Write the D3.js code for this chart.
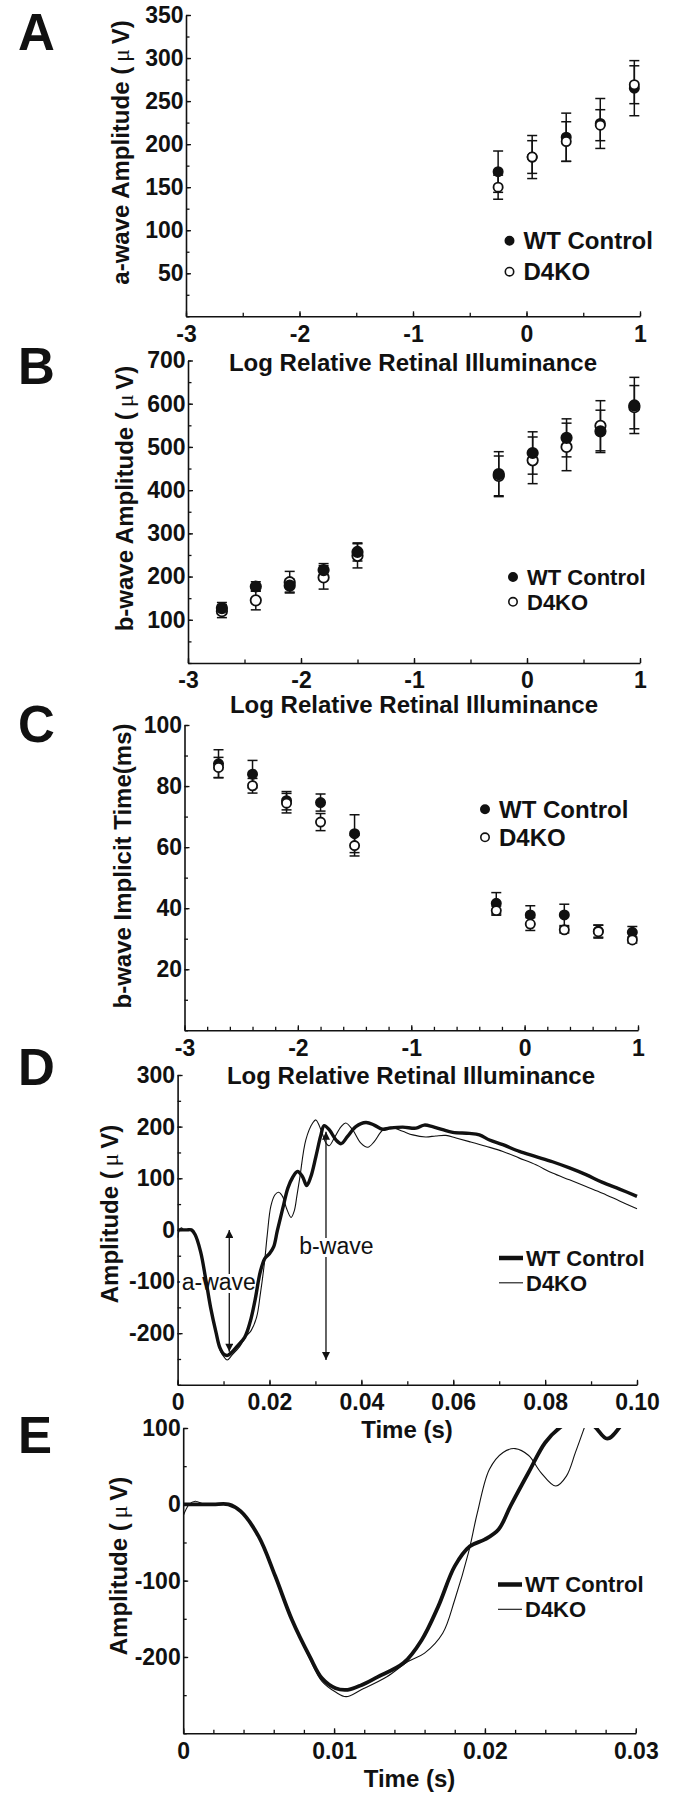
<!DOCTYPE html>
<html><head><meta charset="utf-8">
<script src="https://cdn.jsdelivr.net/npm/d3@7"></script>
<style>
body{margin:0;background:#fff;}
svg{display:block;background:#fff;}
text{font-family:"Liberation Sans",Arial,Helvetica,sans-serif;fill:#111;}
</style></head><body>
<svg id="c" width="676" height="1800"></svg>
<script>
// ---------------- data ----------------
const seriesNames = ["WT Control", "D4KO"];
const illumA = [-0.25, 0.05, 0.35, 0.65, 0.95];
const illumBC = [-2.7, -2.4, -2.1, -1.8, -1.5, -0.25, 0.05, 0.35, 0.65, 0.95];

const aWT = [168, 185, 208, 224, 265];
const aWTerr = [24, 25, 28, 29, 32];
const aKO = [150, 185, 203, 222, 269];
const aKOerr = [14, 19, 23, 18, 22];

const bWT = [127, 177, 179, 215, 257, 437, 486, 521, 536, 596];
const bWTerr = [13, 11, 15, 15, 21, 52, 49, 44, 49, 65];
const bKO = [120, 145, 187, 198, 248, 433, 469, 500, 549, 592];
const bKOerr = [15, 22, 25, 27, 28, 46, 54, 55, 58, 50];

const cWT = [87.3, 83.9, 75.2, 74.6, 64.4, 41.6, 37.8, 37.8, 32.5, 32.1];
const cWTerr = [4.6, 4.5, 3, 2.8, 6.2, 3.5, 3, 3.5, 2, 1.9];
const cKO = [86.1, 80.1, 74.4, 68.2, 60.5, 39.2, 34.8, 32.9, 32.3, 29.6];
const cKOerr = [3.3, 2.4, 3.2, 2.8, 3.4, 1.5, 2.1, 1, 2.1, 1];

// ERG traces (time in s, amplitude in uV)
const wtTime = [0, 0.001, 0.002, 0.003, 0.0038, 0.005, 0.0061, 0.0072, 0.0084, 0.0092, 0.0101, 0.0109, 0.0118, 0.0129, 0.0146, 0.0158, 0.0169, 0.018, 0.019, 0.02, 0.0209, 0.0217, 0.0229, 0.024, 0.025, 0.0261, 0.0272, 0.0281, 0.029, 0.0301, 0.0312, 0.0319, 0.033, 0.0345, 0.0356, 0.037, 0.0388, 0.041, 0.0428, 0.0446, 0.0461, 0.049, 0.0519, 0.0537, 0.0555, 0.0577, 0.0599, 0.0635, 0.0657, 0.0679, 0.0708, 0.0744, 0.078, 0.0816, 0.0853, 0.0889, 0.0925, 0.0962, 0.1];
const wtAmp = [0, 0, 0, 0, -9, -42, -94, -151, -200, -228, -241, -243, -237, -226, -208, -178, -134, -81, -55, -46, -33, -2, 42, 81, 101, 113, 103, 86, 103, 142, 184, 202, 194, 174, 167, 181, 200, 208, 203, 195, 197, 199, 197, 203, 200, 194, 189, 187, 184, 174, 165, 152, 142, 132, 120, 107, 92, 79, 65];
const koTime = [0, 0.0004, 0.0008, 0.0014, 0.002, 0.003, 0.0038, 0.005, 0.0061, 0.0072, 0.0084, 0.0092, 0.0101, 0.0108, 0.0118, 0.0135, 0.0149, 0.016, 0.0172, 0.018, 0.0189, 0.0195, 0.0203, 0.0212, 0.022, 0.0229, 0.0237, 0.0247, 0.0254, 0.026, 0.0266, 0.0279, 0.0294, 0.0301, 0.0312, 0.0323, 0.033, 0.0341, 0.0356, 0.0366, 0.0381, 0.0399, 0.0414, 0.0428, 0.0446, 0.0464, 0.049, 0.0512, 0.054, 0.0562, 0.0584, 0.0606, 0.0635, 0.0671, 0.0708, 0.0744, 0.078, 0.0816, 0.0853, 0.0889, 0.0925, 0.0962, 0.1];
const koAmp = [-15, 0, 4, 0, 0, 0, -9, -42, -94, -151, -203, -232, -246, -252, -243, -226, -206, -195, -169, -125, -64, -11, 46, 68, 73, 64, 42, 24, 37, 68, 101, 174, 207, 213, 194, 168, 163, 178, 200, 207, 194, 168, 160, 171, 193, 199, 191, 184, 180, 182, 183, 178, 171, 162, 152, 139, 126, 110, 97, 84, 71, 56, 41];

// annotations in panel D (a-wave, b-wave)
const annoLabels = ["a-wave", "b-wave"];
const annoArrowT = [0.01125, 0.0323];
const annoArrowTop = [0, 190];
const annoArrowBottom = [-236, -252];
const annoTextT = [0.0009, 0.0265];
const annoTextV = [-116, -47];

// tick labels
const illumTicks = [-3, -2, -1, 0, 1];
const aTicks = [50, 100, 150, 200, 250, 300, 350];
const bTicks = [100, 200, 300, 400, 500, 600, 700];
const cTicks = [20, 40, 60, 80, 100];
const dYTicks = [-200, -100, 0, 100, 200, 300];
const dXTicks = [0, 0.02, 0.04, 0.06, 0.08, 0.10];
const dXLabels = ["0", "0.02", "0.04", "0.06", "0.08", "0.10"];
const eYTicks = [-200, -100, 0, 100];
const eXTicks = [0, 0.01, 0.02, 0.03];
const eXLabels = ["0", "0.01", "0.02", "0.03"];

// ---------------- drawing ----------------
const svg = d3.select("#c");
const FS = 23;

svg.append("defs").append("marker")
  .attr("id", "ah").attr("markerUnits", "userSpaceOnUse")
  .attr("viewBox", "0 0 10 10").attr("refX", 10).attr("refY", 5)
  .attr("markerWidth", 9).attr("markerHeight", 8).attr("orient", "auto-start-reverse")
  .append("path").attr("d", "M0,0 L10,5 L0,10 Z").attr("fill", "#111");

function letter(t, x, y) {
  svg.append("text").attr("x", x).attr("y", y).attr("font-size", 51)
    .attr("font-weight", "bold").text(t);
}

function yTitle(x, y, pre, post) {
  const t = svg.append("text").attr("transform", `translate(${x},${y}) rotate(-90)`)
    .attr("text-anchor", "middle").attr("dy", "0.35em")
    .attr("font-size", 24).attr("font-weight", "bold");
  t.append("tspan").text(pre);
  if (post !== undefined) {
    t.append("tspan").attr("font-family", "Liberation Serif, DejaVu Serif, serif")
      .attr("font-weight", "normal").text("\u2009\u03bc\u2009");
    t.append("tspan").text(post);
  }
}

function xTitle(x, y, txt) {
  svg.append("text").attr("x", x).attr("y", y).attr("dy", "0.35em")
    .attr("text-anchor", "middle").attr("font-size", 24).attr("font-weight", "bold").text(txt);
}

function drawAxes(x, y, xMinor, xMajor, xLab, yMinor, yMajor) {
  const g = svg.append("g");
  const y0 = y.range()[0], x0 = x.range()[0];
  const gx = g.append("g").attr("transform", `translate(0,${y0})`);
  gx.call(d3.axisBottom(x).tickValues(xMinor).tickSize(-3.5).tickSizeOuter(0).tickFormat(""));
  const gx2 = g.append("g").attr("transform", `translate(0,${y0})`);
  gx2.call(d3.axisBottom(x).tickValues(xMajor).tickSize(-5).tickSizeOuter(0).tickPadding(9)
    .tickFormat((d, i) => xLab[i]));
  gx2.select(".domain").remove();
  const gy = g.append("g").attr("transform", `translate(${x0},0)`);
  gy.call(d3.axisLeft(y).tickValues(yMinor).tickSize(-3.5).tickSizeOuter(0).tickFormat(""));
  const gy2 = g.append("g").attr("transform", `translate(${x0},0)`);
  gy2.call(d3.axisLeft(y).tickValues(yMajor).tickSize(-5).tickSizeOuter(0).tickPadding(2.5)
    .tickFormat(d => String(d)));
  gy2.select(".domain").remove();
  g.selectAll("text").attr("font-size", FS).attr("font-weight", "bold")
    .attr("font-family", "Liberation Sans, Arial, sans-serif").attr("fill", "#111");
  g.selectAll("line").attr("stroke", "#111").attr("stroke-width", 1.3);
  g.selectAll(".domain").attr("stroke", "#111").attr("stroke-width", 1.6);
}

function scatterPanel(cfg) {
  const x = d3.scaleLinear().domain([-3, 1]).range(cfg.xr);
  const y = d3.scaleLinear().domain(cfg.yd).range(cfg.yr);
  drawAxes(x, y, d3.range(-3, 1.001, cfg.xStep), illumTicks, illumTicks.map(String),
    d3.range(cfg.yd[0], cfg.yd[1] + 0.001, cfg.yStep), cfg.yTicks);
  const sets = [
    {vals: cfg.wt, err: cfg.wtErr, fill: "#111"},
    {vals: cfg.ko, err: cfg.koErr, fill: "#fff"}
  ];
  const order = cfg.wtOnTop ? [1, 0] : [0, 1];
  const g = svg.append("g");
  order.forEach(si => {
    const s = sets[si];
    const pts = cfg.xs.map((xv, i) => ({x: xv, v: s.vals[i], e: s.err[i]}));
    const eg = g.append("g").attr("stroke", "#111").attr("stroke-width", 1.5);
    pts.forEach(p => {
      const px = x(p.x), lo = y(p.v - p.e), hi = y(p.v + p.e);
      eg.append("line").attr("x1", px).attr("x2", px).attr("y1", lo).attr("y2", hi);
      eg.append("line").attr("x1", px - 5).attr("x2", px + 5).attr("y1", lo).attr("y2", lo);
      eg.append("line").attr("x1", px - 5).attr("x2", px + 5).attr("y1", hi).attr("y2", hi);
    });
  });
  order.forEach(si => {
    const s = sets[si];
    const pts = cfg.xs.map((xv, i) => ({x: xv, v: s.vals[i]}));
    g.append("g").selectAll("circle").data(pts).join("circle")
      .attr("cx", d => x(d.x)).attr("cy", d => y(d.v)).attr("r", cfg.r)
      .attr("fill", s.fill).attr("stroke", "#111").attr("stroke-width", 1.8);
  });
  // legend
  const lg = svg.append("g");
  seriesNames.forEach((nm, i) => {
    const ly = cfg.leg[1] + i * cfg.legGap;
    lg.append("circle").attr("cx", cfg.leg[0]).attr("cy", ly).attr("r", 4.2)
      .attr("fill", i === 0 ? "#111" : "#fff").attr("stroke", "#111").attr("stroke-width", 1.6);
    lg.append("text").attr("x", cfg.leg[0] + 14).attr("y", ly).attr("dy", "0.36em")
      .attr("font-size", cfg.legFS).attr("font-weight", "bold").text(nm);
  });
}

function linePanel(cfg) {
  const x = d3.scaleLinear().domain(cfg.xd).range(cfg.xr);
  const y = d3.scaleLinear().domain(cfg.yd).range(cfg.yr);
  drawAxes(x, y, d3.range(cfg.xd[0], cfg.xd[1] + 1e-9, cfg.xStep), cfg.xTicks, cfg.xLabels,
    d3.range(cfg.yd[0], cfg.yd[1] + 0.001, 50), cfg.yTicks);
  const cid = "clip" + cfg.id;
  svg.append("clipPath").attr("id", cid).append("rect")
    .attr("x", cfg.xr[0]).attr("y", cfg.yr[1]).attr("width", cfg.xr[1] - cfg.xr[0] + 2)
    .attr("height", cfg.yr[0] - cfg.yr[1]);
  if (cfg.anno) {
    annoLabels.forEach((lab, i) => {
      svg.append("line").attr("x1", x(annoArrowT[i])).attr("x2", x(annoArrowT[i]))
        .attr("y1", y(annoArrowTop[i])).attr("y2", y(annoArrowBottom[i]))
        .attr("stroke", "#111").attr("stroke-width", 1.3)
        .attr("marker-start", "url(#ah)").attr("marker-end", "url(#ah)");
      svg.append("text").attr("x", x(annoTextT[i])).attr("y", y(annoTextV[i]))
        .attr("font-size", 23).attr("stroke", "#fff").attr("stroke-width", 6)
        .attr("paint-order", "stroke").text(lab);
    });
  }
  const line = d3.line().x(d => x(d[0])).y(d => y(d[1])).curve(d3.curveCatmullRom.alpha(0.5));
  const g = svg.append("g").attr("clip-path", `url(#${cid})`);
  g.append("path").datum(koTime.map((t, i) => [t, koAmp[i]])).attr("d", line)
    .attr("fill", "none").attr("stroke", "#111").attr("stroke-width", 1.1);
  g.append("path").datum(wtTime.map((t, i) => [t, wtAmp[i]])).attr("d", line)
    .attr("fill", "none").attr("stroke", "#111").attr("stroke-width", cfg.thick);
  // legend
  seriesNames.forEach((nm, i) => {
    const ly = cfg.leg[1] + i * cfg.legGap;
    svg.append("line").attr("x1", cfg.leg[0]).attr("x2", cfg.leg[0] + 24)
      .attr("y1", ly).attr("y2", ly).attr("stroke", "#111")
      .attr("stroke-width", i === 0 ? 4.5 : 1.1);
    svg.append("text").attr("x", cfg.leg[0] + 27).attr("y", ly).attr("dy", "0.36em")
      .attr("font-size", 22).attr("font-weight", "bold").text(nm);
  });
}

// Panel A
letter("A", 18, 50);
scatterPanel({xr: [186, 640], yr: [316.3, 15], yd: [0, 350], xStep: 0.5, yStep: 25, yTicks: aTicks,
  xs: illumA, wt: aWT, wtErr: aWTerr, ko: aKO, koErr: aKOerr, r: 4.6, wtOnTop: false,
  leg: [509.5, 240.7], legGap: 31, legFS: 24});
yTitle(120.7, 152.5, "a-wave Amplitude (", "V)");
xTitle(413, 363, "Log Relative Retinal Illuminance");

// Panel B
letter("B", 18, 384);
scatterPanel({xr: [188, 640], yr: [663, 360.5], yd: [0, 700], xStep: 0.5, yStep: 50, yTicks: bTicks,
  xs: illumBC, wt: bWT, wtErr: bWTerr, ko: bKO, koErr: bKOerr, r: 5.2, wtOnTop: true,
  leg: [513, 577], legGap: 24.8, legFS: 22});
yTitle(125, 498.5, "b-wave Amplitude (", "V)");
xTitle(414, 705, "Log Relative Retinal Illuminance");

// Panel C
letter("C", 18, 742);
scatterPanel({xr: [184.5, 638], yr: [1030.3, 725], yd: [0, 100], xStep: 0.2, yStep: 10, yTicks: cTicks,
  xs: illumBC, wt: cWT, wtErr: cWTerr, ko: cKO, koErr: cKOerr, r: 4.6, wtOnTop: false,
  leg: [485, 809.3], legGap: 28, legFS: 24});
yTitle(123, 866, "b-wave Implicit Time(ms)");
xTitle(411, 1076, "Log Relative Retinal Illuminance");

// Panel D
letter("D", 18, 1085);
linePanel({id: "D", xd: [0, 0.1], xr: [177.6, 637], yd: [-300, 300], yr: [1384.8, 1075],
  xStep: 0.01, xTicks: dXTicks, xLabels: dXLabels, yTicks: dYTicks, thick: 3.4, anno: true,
  leg: [499, 1258], legGap: 24.8});
yTitle(110, 1214, "Amplitude (", "V)");
xTitle(407, 1429.7, "Time (s)");

// Panel E
letter("E", 18, 1453);
linePanel({id: "E", xd: [0, 0.03], xr: [183.2, 635.8], yd: [-300, 100], yr: [1733.3, 1428],
  xStep: 0.002, xTicks: eXTicks, xLabels: eXLabels, yTicks: eYTicks, thick: 3.8, anno: false,
  leg: [498, 1584.5], legGap: 24.8});
yTitle(118.5, 1566, "Amplitude (", "V)");
xTitle(409.5, 1778.3, "Time (s)");
</script>
</body></html>
